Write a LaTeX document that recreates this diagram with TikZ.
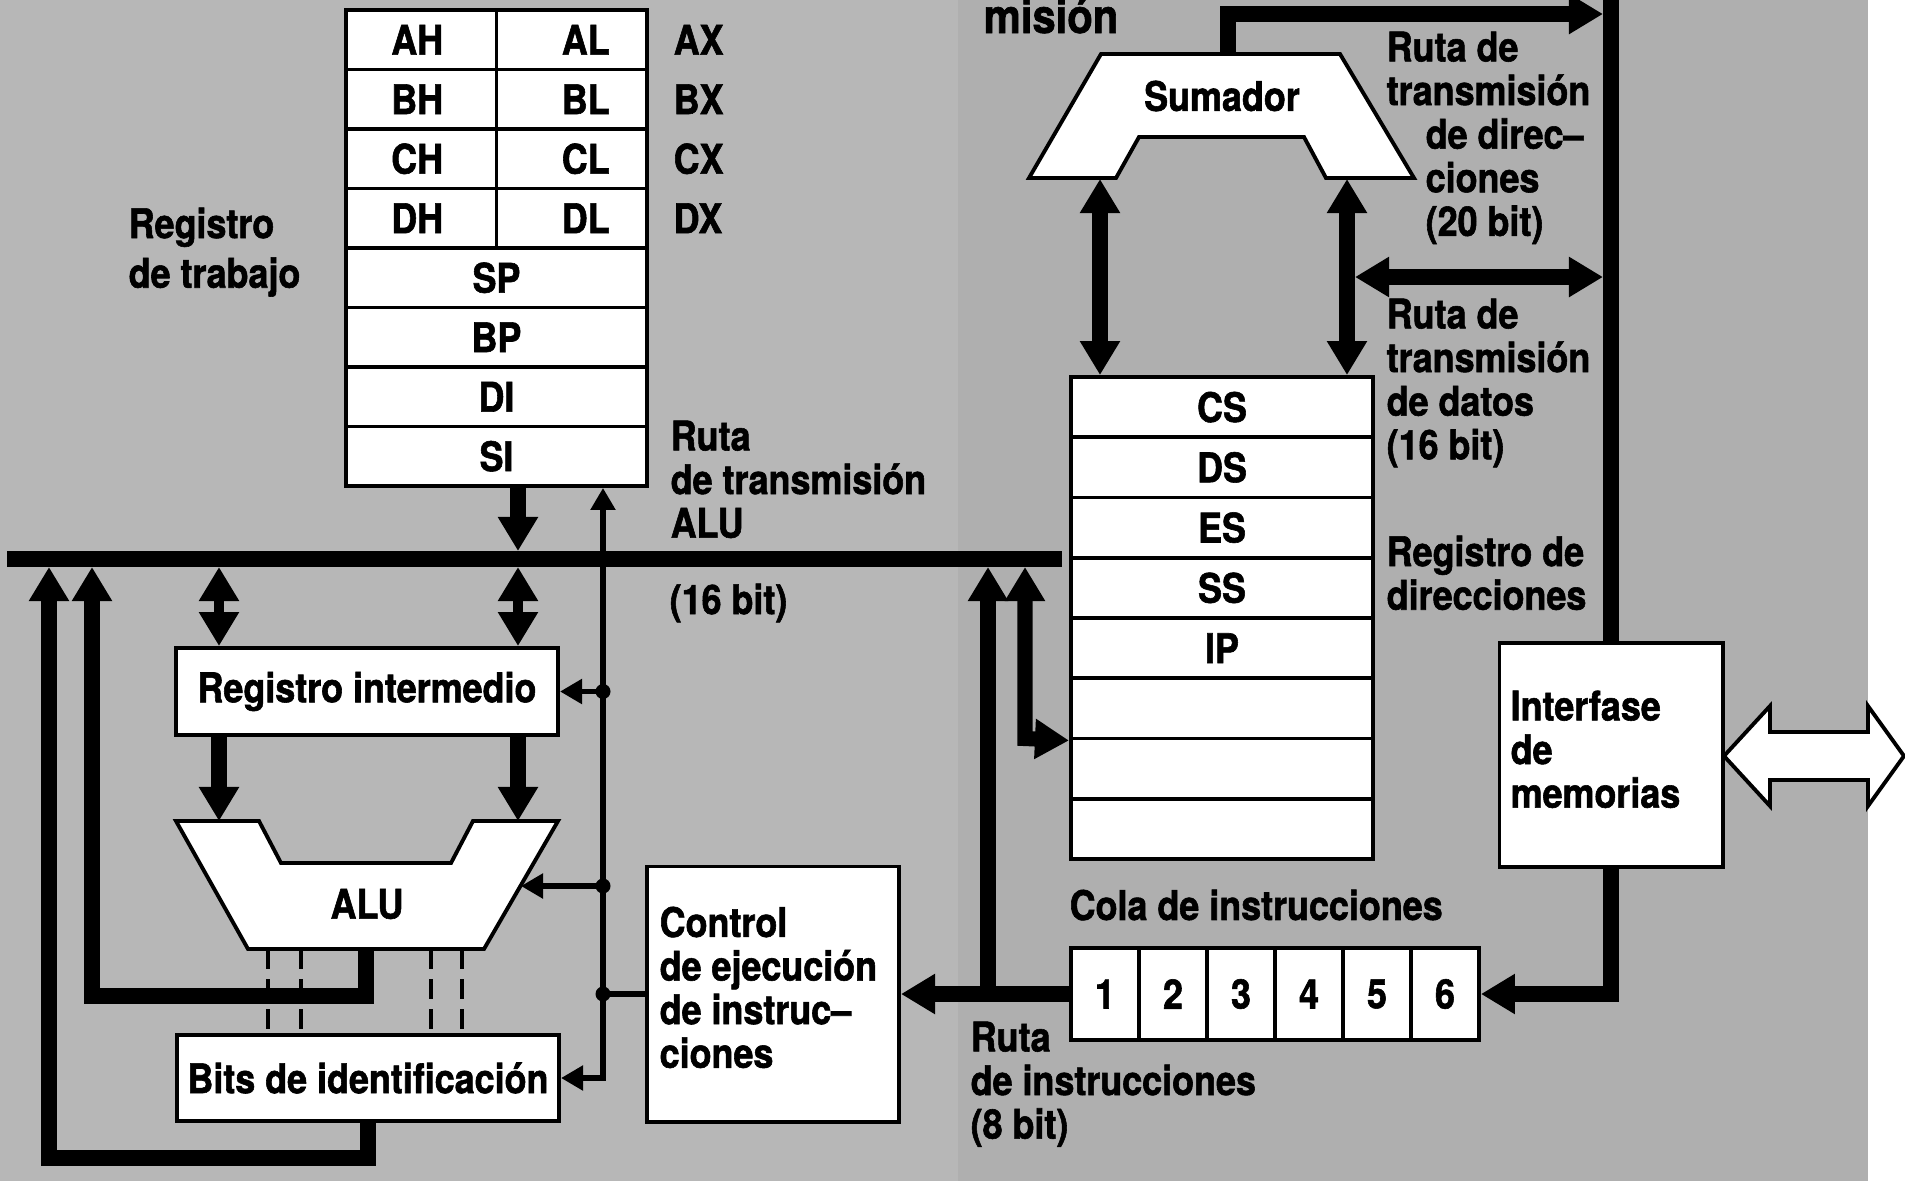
\documentclass[tikz,border=0pt]{standalone}
\usepackage{fontspec}
\setmainfont{TeX Gyre Heros}[FakeStretch=0.88, BoldFeatures={FakeBold=1.4}]
\usetikzlibrary{arrows.meta}
\definecolor{fondoizq}{HTML}{B7B7B7}
\definecolor{fondoder}{HTML}{AFAFAF}

\begin{document}
\begin{tikzpicture}[
    x=0.01cm, y=-0.01cm,
    font=\fontsize{11.6}{12.4}\selectfont\bfseries,
    caja/.style={draw, fill=white, line width=1.1pt, inner sep=0pt},
    mitad/.style={caja, minimum width=1.505cm, minimum height=0.595cm},
    fila/.style={caja, minimum width=3.01cm, minimum height=0.595cm},
    dirfila/.style={caja, minimum width=3.02cm, minimum height=0.6025cm},
    celda/.style={caja, minimum width=0.68cm, minimum height=0.92cm},
    forma/.style={draw, fill=white, line width=1.1pt, line join=miter},
    texto/.style={anchor=north west, align=left, inner sep=0pt},
    punta/.tip={Triangle[length=3.4mm,width=3.8mm]},
    puntita/.tip={Triangle[length=2.2mm,width=2.4mm]},
    bus/.style={line width=4.5pt},
    grueso/.style={line width=4.3pt, line join=miter, -punta},
    doble/.style={line width=4.3pt, line join=miter, punta-punta},
    corto/.style={line width=2.8pt, punta-punta},
    fino/.style={line width=1.5pt, line join=miter},
    punteado/.style={line width=1pt, dash pattern=on 2mm off 1mm}]

  % ---- fondo ------------------------------------------------------------------
  \useasboundingbox (0,0) rectangle (1905,1181);
  \fill[white]    (0,0)    rectangle (1905,1181);
  \fill[fondoizq] (0,0)    rectangle (958,1181);
  \fill[fondoder] (958,0)  rectangle (1868,1181);

  % ---- registro de trabajo ------------------------------------------------------
  \foreach \hi/\lo/\nom [count=\i] in {AH/AL/AX,BH/BL/BX,CH/CL/CX,DH/DL/DX} {
    \node[mitad] (h\i) at (421.25,{10+59.5*(\i-0.5)}) {\hi\hspace*{0.08cm}};
    \node[mitad] (l\i) at (571.75,{10+59.5*(\i-0.5)}) {\hspace*{0.28cm}\lo};
    \node[anchor=west, inner sep=0pt] (x\i) at (673,{10+59.5*(\i-0.5)}) {\nom};
  }
  \foreach \r [count=\i from 5] in {SP,BP,DI,SI}
    \node[fila] (r\i) at (496.5,{10+59.5*(\i-0.5)}) {\r};
  \node[texto] (trabajo) at (128,207) {Registro\\[0.06cm]de trabajo};

  % ---- ruta de transmision ALU (16 bit) -----------------------------------------
  \draw[bus] (7,559) -- (1062,559);
  \node[texto] (rutaalu) at (670,420) {Ruta\\de transmisión\\ALU};
  \node[anchor=west, inner sep=0pt] (bits16) at (669,603) {(16 bit)};

  % ---- registro intermedio, ALU y bits de identificacion ------------------------
  \node[caja, minimum width=3.82cm, minimum height=0.87cm] (regint) at (367,691.5) {Registro intermedio};
  \filldraw[forma] (176,821) -- (259,821) -- (281,863) -- (451,863) -- (473,821)
                -- (558,821) -- (484,949) -- (248,949) -- cycle;
  \node (alu) at (367,904) {ALU};
  \coordinate (aluE) at (521,886);
  \node[caja, minimum width=3.82cm, minimum height=0.86cm] (bits) at (368,1078) {Bits de identificación};
  \foreach \x in {268,301,431,462} \draw[punteado] (\x,949) -- (\x,1035);

  \draw[grueso] (r8.south -| 518,0) -- (518,551);             % SI -> bus
  \draw[corto] (219,567) -- (regint.north -| 219,0);
  \draw[corto] (518,567) -- (regint.north -| 518,0);
  \draw[grueso] (regint.south -| 219,0) -- (219,821);
  \draw[grueso] (regint.south -| 518,0) -- (518,821);
  \draw[grueso] (366,949) -- (366,996) -- (92,996) -- (92,567);   % ALU -> bus
  \draw[grueso] (bits.south) -- (368,1158) -- (49,1158) -- (49,567); % bits -> bus

  % ---- control de ejecucion -----------------------------------------------------
  \node[caja, minimum width=2.52cm, minimum height=2.55cm] (ctrl) at (773,994) {};
  \node[texto] (ctrltxt) at (659,906) {Control\\de ejecución\\de instruc–\\ciones};
  \coordinate (ctl) at (603,994);
  \draw[fino, puntita-puntita] (r8.south -| ctl) -- (bits.east -| ctl) -- (bits.east);
  \draw[fino, -puntita] (regint.east -| ctl) -- (regint.east);
  \draw[fino, -puntita] (aluE -| ctl) -- (aluE);
  \draw[fino] (ctl) -- (ctrl.west);
  \foreach \p in {(regint.east -| ctl),(aluE -| ctl),(ctl)} \fill \p circle (0.075cm);

  % ---- registro de direcciones ------------------------------------------------
  \foreach \r [count=\i] in {CS,DS,ES,SS,IP,{},{},{}}
    \node[dirfila] (d\i) at (1222,{377+60.25*(\i-0.5)}) {\r};
  \node[texto] (regdir) at (1386,535) {Registro de\\direcciones};

  % ---- cola de instrucciones ----------------------------------------------------
  \foreach \n in {1,...,6}
    \node[celda] (q\n) at ({1071+68*(\n-0.5)},994) {\n};
  \node[anchor=west, inner sep=0pt] (cola) at (1069,905) {Cola de instrucciones};
  \node[texto] (rutains) at (970,1021) {Ruta\\de instrucciones\\(8 bit)};
  \draw[grueso] (q1.west) -- (ctrl.east);
  \draw[grueso] (988,994) -- (988,567);
  \draw[doble] (1025,567) -- (1025,738.5) -- (d6.south west);

  % ---- sumador -----------------------------------------------------------------
  \filldraw[forma] (1101,54) -- (1340,54) -- (1414,178) -- (1326,178) -- (1304,137)
                -- (1139,137) -- (1116,178) -- (1029,178) -- cycle;
  \node (suma) at (1222,96) {Sumador};
  \node[anchor=base west, inner sep=0pt, font=\fontsize{13.5}{14}\selectfont\bfseries] (mision) at (983,33) {misión};
  \draw[doble] (1100,179) -- (d1.north -| 1100,0);
  \draw[doble] (1347,179) -- (d1.north -| 1347,0);
  \draw[doble] (1355,277) -- (1603,277);

  % ---- interfase de memorias ----------------------------------------------------
  \node[caja, minimum width=2.23cm, minimum height=2.24cm] (mem) at (1611,755) {};
  \node[texto] (memtxt) at (1510,690) {Interfase\\de\\memorias};
  \draw[bus] (mem.north) -- (1611,-10);
  \draw[grueso] (1228,54) -- (1228,14) -- (1603,14);
  \draw[grueso] (mem.south) -- (mem.south |- q6.east) -- (q6.east);
  \filldraw[forma] (1724,756) -- (1770,706) -- (1770,732) -- (1868,732) -- (1868,706)
                -- (1904,756) -- (1868,806) -- (1868,780) -- (1770,780) -- (1770,806) -- cycle;

  \node[texto] (rutadir) at (1386,31)
    {Ruta de\\transmisión\\\hspace*{0.39cm}de direc–\\\hspace*{0.39cm}ciones\\\hspace*{0.39cm}(20 bit)};
  \node[texto] (rutadat) at (1386,298) {Ruta de\\transmisión\\de datos\\(16 bit)};

\end{tikzpicture}
\end{document}
